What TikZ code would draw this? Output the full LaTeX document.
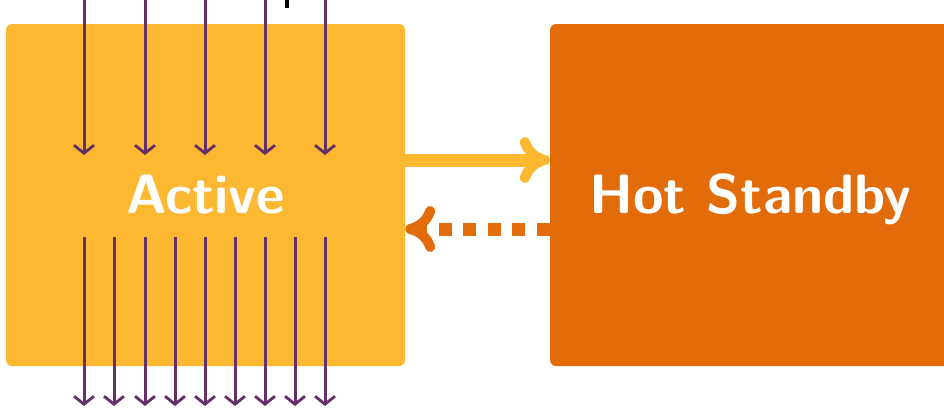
\documentclass[tikz,border=0pt]{standalone}
\usetikzlibrary{arrows.meta}
\definecolor{activeyellow}{HTML}{FBB830}
\definecolor{standbyorange}{HTML}{E36C0A}
\definecolor{flowpurple}{HTML}{652F6A}
\begin{document}
\begin{tikzpicture}[x=1pt,y=-1pt,
  statebox/.style={rounded corners=6pt, inner sep=0pt, text=white,
    font=\sffamily\bfseries\fontsize{55.5}{60}\selectfont},
  flow/.style={draw=flowpurple, line width=3pt,
    -{Straight Barb[length=8pt,width=20pt,line width=2.8pt]}},
  sync/.style={draw=activeyellow, line width=13pt,
    -{To[length=30pt,width=46pt,line width=10pt,round]}},
  heartbeat/.style={draw=standbyorange, line width=13pt,
    dash pattern=on 13pt off 11.5pt,
    -{To[length=30pt,width=46pt,line width=10pt,round]}}]
\useasboundingbox (0,0) rectangle (944,408);
\clip (0,0) rectangle (944,408);

% the two states
\node[statebox, fill=activeyellow, minimum width=399pt, minimum height=342pt]
  (act) at (205.5,195) {};
\node[statebox, fill=standbyorange, minimum width=400pt, minimum height=342pt]
  (hot) at (750,195) {};
\node[statebox, anchor=base] (actlbl) at (205.5,213) {Active};
\node[statebox, anchor=base] (hotlbl) at (750.5,213) {Hot Standby};

% incoming requests
\foreach \x [count=\i] in {84,145,205,265,325} {
  \coordinate (in\i s) at (\x,-10);
  \coordinate (in\i e) at (\x,155);
  \draw[flow] (in\i s) -- (in\i e);
}
% outgoing traffic
\foreach \x [count=\i] in {84,114,145,175,205,235,265,295,325} {
  \coordinate (out\i s) at (\x,237);
  \coordinate (out\i e) at (\x,406);
  \draw[flow] (out\i s) -- (out\i e);
}

% replication and heartbeat between the states
\draw[sync] ([yshift=35pt]act.east) -- ([yshift=35pt]hot.west);
\draw[heartbeat] ([yshift=-34pt]hot.west) -- ([yshift=-34pt]act.east);

% marker at the top edge
\fill[black] (285,-5) rectangle (289,8);
\end{tikzpicture}
\end{document}
